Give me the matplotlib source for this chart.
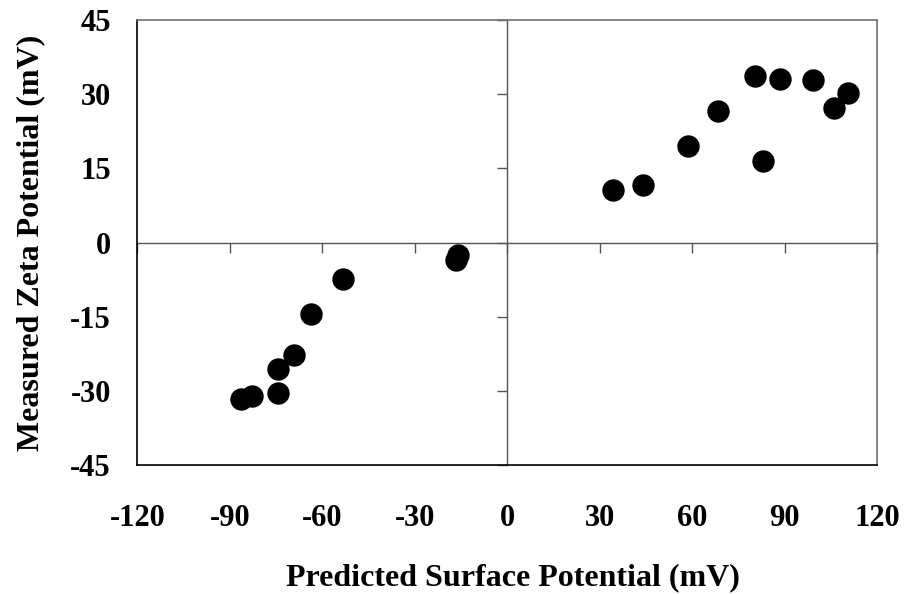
import numpy as np
import matplotlib.pyplot as plt

# predicted surface potential (mV) vs measured zeta potential (mV)
predicted = [-86.3, -82.8, -74.5, -74.5, -69.2, -63.7, -53.4, -16.7, -15.9,
             34.4, 44.1, 58.7, 68.3, 80.2, 82.8, 88.5, 99.3, 106.1, 110.5]
measured = [-31.7, -31.1, -30.5, -25.5, -22.8, -14.4, -7.3, -3.6, -2.5,
            10.6, 11.7, 19.5, 26.6, 33.7, 16.5, 33.0, 32.8, 27.3, 30.2]

xticks = [-120, -90, -60, -30, 0, 30, 60, 90, 120]
yticks = [-45, -30, -15, 0, 15, 30, 45]

plt.rcParams['font.family'] = ['Liberation Serif', 'DejaVu Serif']
plt.rcParams['font.weight'] = 'bold'
plt.rcParams['axes.unicode_minus'] = False

fig = plt.figure(figsize=(9.06, 5.94), dpi=100)
rect = [137.3 / 906, 1 - 465 / 594, 740 / 906, 445 / 594]
ax = fig.add_axes(rect)

ax.scatter(predicted, measured, s=260, color='black', zorder=3, linewidths=0)
ax.set_xlim(-120, 120)
ax.set_ylim(-45, 45)
ax.set_xticks(xticks)
ax.set_yticks(yticks)
ax.tick_params(axis='x', length=0, pad=28, labelsize=22)
ax.tick_params(axis='y', length=0, pad=19, labelsize=22)
for side in ['left', 'bottom']:
    ax.spines[side].set_color('black')
    ax.spines[side].set_linewidth(1.2)
for side in ['top', 'right']:
    ax.spines[side].set_color('#707070')
    ax.spines[side].set_linewidth(1.2)

ax.set_xlabel('Predicted Surface Potential (mV)', fontsize=23,
              fontweight='bold', labelpad=22)
ax.set_ylabel('Measured Zeta Potential (mV)', fontsize=23,
              fontweight='bold', labelpad=18)
ax.xaxis.label.set_x(0.507)

# axes through the origin, with their own tick marks
cross = fig.add_axes(rect, sharex=ax, sharey=ax)
cross.patch.set_visible(False)
cross.spines['left'].set_position(('data', 0))
cross.spines['bottom'].set_position(('data', 0))
cross.spines['top'].set_visible(False)
cross.spines['right'].set_visible(False)
for side in ['left', 'bottom']:
    cross.spines[side].set_color('#555555')
    cross.spines[side].set_linewidth(1.0)
cross.tick_params(direction='out', length=7, width=1.0, color='#555555',
                  labelleft=False, labelbottom=False)
ax.set_zorder(2)
cross.set_zorder(1)
ax.patch.set_visible(False)

fig.savefig('out.png', dpi=100)
